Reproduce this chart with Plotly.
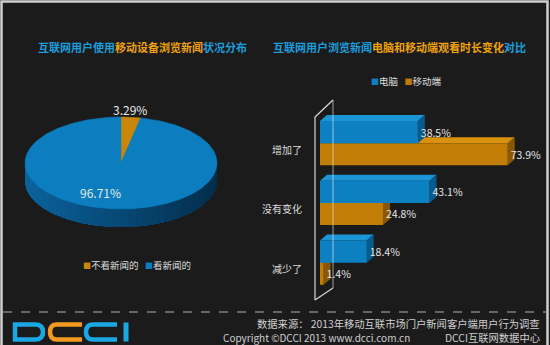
import numpy as np
import plotly.graph_objects as go

# ---------------- data ----------------
pie_labels = ["不看新闻的", "看新闻的"]
pie_values = [3.29, 96.71]

bar_categories = ["增加了", "没有变化", "减少了"]
series_names = ["电脑", "移动端"]
pc_values = [38.5, 43.1, 18.4]
mobile_values = [73.9, 24.8, 1.4]

title_left = [("互联网用户使用", "b"), ("移动设备浏览新闻", "o"), ("状况分布", "b")]
title_right = [("互联网用户浏览新闻", "b"), ("电脑和移动端观看时长变化", "o"), ("对比", "b")]
footer_source = "数据来源： 2013年移动互联市场门户新闻客户端用户行为调查"
footer_copy = "Copyright ©DCCI 2013 www.dcci.com.cn"
footer_org = "DCCI互联网数据中心"

# ---------------- style ----------------
BG = "#1b1b1b"
T_BLUE = "#1c9ddc"
T_ORANGE = "#eea20e"
FONT = "Noto Sans CJK SC"
TXT = "#dcdcdc"

PIE_TOP = ["#c8870a", "#0c7ebf"]
PIE_SIDE_L = [(0x9a, 0x66, 0x08), (0x0b, 0x63, 0x9e)]
PIE_SIDE_R = [(0x6a, 0x44, 0x03), (0x04, 0x2e, 0x4c)]

BAR_FRONT = {"电脑": "#0d80c2", "移动端": "#c17d06"}
BAR_TOP = {"电脑": "#1a95d6", "移动端": "#d8920f"}
BAR_SIDE = {"电脑": "#075a8c", "移动端": "#8a5804"}

fig = go.Figure()

# ---------------- pie (pseudo 3D ellipse on pixel axis x2/y2) ----------------
CX, CY, RX, RY, DEPTH = 121, 163, 96, 46, 18
total = sum(pie_values)
start = 90.0
slices = []
for v in pie_values:
    sweep = 360.0 * v / total
    slices.append((start, start - sweep))
    start -= sweep

def ell(theta_deg, dy=0.0):
    t = np.radians(theta_deg)
    return CX + RX * np.cos(t), CY - RY * np.sin(t) + dy

# side faces (shaded, overlapping strips so no seams show)
for (a0, a1), cl, cr in zip(slices, PIE_SIDE_L, PIE_SIDE_R):
    th = np.linspace(a0, a1, 721)
    s = np.sin(np.radians(th))
    th = th[s <= 0]
    if len(th) < 2:
        continue
    # order strips from left (cos=-1) to right
    if np.cos(np.radians(th[0])) > np.cos(np.radians(th[-1])):
        th = th[::-1]
    nseg = 40
    edges = np.linspace(0, len(th) - 1, nseg + 1).astype(int)
    for k in range(nseg):
        seg = th[edges[k]:]
        part = th[edges[k]:edges[k + 1] + 1]
        f = (np.cos(np.radians(part.mean())) + 1) / 2
        col = "rgb(%d,%d,%d)" % tuple(int(cl[j] + (cr[j] - cl[j]) * f) for j in range(3))
        xs, ys = ell(seg)
        xb, yb = ell(seg[::-1], DEPTH)
        fig.add_trace(go.Scatter(x=np.concatenate([xs, xb]), y=np.concatenate([ys, yb]),
                                 fill="toself", fillcolor=col, mode="lines",
                                 line=dict(width=0), xaxis="x2", yaxis="y2",
                                 hoverinfo="skip", showlegend=False))
# top faces
for (a0, a1), col, lab, v in zip(slices, PIE_TOP, pie_labels, pie_values):
    th = np.linspace(a0, a1, 400)
    xs, ys = ell(th)
    fig.add_trace(go.Scatter(x=np.concatenate([[CX], xs, [CX]]), y=np.concatenate([[CY], ys, [CY]]),
                             fill="toself", fillcolor=col, mode="lines",
                             line=dict(width=0.5, color=col), xaxis="x2", yaxis="y2",
                             name=lab, hoverinfo="name", showlegend=False))

# pie labels
for (a0, a1), v in zip(slices, pie_values):
    mid = (a0 + a1) / 2
    small = v / total < 0.1
    f = 1.16 if small else 0.55
    t = np.radians(mid)
    fig.add_annotation(x=CX + RX * f * np.cos(t), y=CY - RY * f * np.sin(t),
                       xref="x2", yref="y2", text=f"{v:.2f}%", showarrow=False,
                       xshift=-2 if small else -15, yshift=0 if small else -4,
                       font=dict(family=FONT, size=12, color="#e8e8e8"))

# ---------------- bars (pseudo 3D) ----------------
PX_PER_UNIT = 2.54
DX = 7 / PX_PER_UNIT
DY = 0.10
W = 0.37
ypos = list(range(len(bar_categories)))

series = [("移动端", mobile_values, 0.0, 0), ("电脑", pc_values, -W, 2)]
for name, vals, off, z in series:
    for i, v in zip(ypos, vals):
        yt = i + off
        fig.add_trace(go.Scatter(x=[0, v, v + DX, DX, 0], y=[yt, yt, yt - DY, yt - DY, yt],
                                 fill="toself", fillcolor=BAR_TOP[name], mode="lines",
                                 line=dict(width=0), hoverinfo="skip", showlegend=False,
                                 zorder=z))
        fig.add_trace(go.Scatter(x=[v, v + DX, v + DX, v, v], y=[yt, yt - DY, yt + W - DY, yt + W, yt],
                                 fill="toself", fillcolor=BAR_SIDE[name], mode="lines",
                                 line=dict(width=0), hoverinfo="skip", showlegend=False,
                                 zorder=z))
    fig.add_trace(go.Bar(x=vals, y=ypos, orientation="h", name=name,
                         marker=dict(color=BAR_FRONT[name], line=dict(width=0)),
                         width=W, offset=off, zorder=z + 1,
                         text=[f"{v}%" for v in vals], textposition="outside",
                         textfont=dict(family=FONT, size=10.5, color="#e6e6e6"),
                         cliponaxis=False, showlegend=False))

for i, c in zip(ypos, bar_categories):
    fig.add_annotation(x=0, y=i, xref="x", yref="y", text=c, showarrow=False,
                       xanchor="right", xshift=-16, yshift=-6,
                       font=dict(family=FONT, size=10, color=TXT))

# ---------------- decorations ----------------
shapes = []
shapes.append(dict(type="rect", xref="x2", yref="y2", x0=1.5, y0=1.5, x1=547.5, y1=350,
                   line=dict(color="#cfcfcf", width=2.5), layer="above"))
wall = dict(xref="x2", yref="y2", type="line", line=dict(color="#d9d9d9", width=1.2), layer="below")
shapes += [dict(wall, x0=315, y0=117, x1=315, y1=300),
           dict(wall, x0=315, y0=117, x1=333, y1=100),
           dict(wall, x0=315, y0=300, x1=333, y1=288),
           dict(xref="x2", yref="y2", type="line", x0=333, y0=100, x1=333, y1=288,
                line=dict(color="rgba(230,230,230,0.55)", width=1.2), layer="above")]
shapes.append(dict(type="line", xref="x2", yref="y2", x0=3, y0=312, x1=547, y1=312,
                   line=dict(color="#b0b0b0", width=1, dash="dash")))
LB, LO = "#1ba6e4", "#f39a1e"
logo = dict(type="path", xref="x2", yref="y2", fillcolor="rgba(0,0,0,0)")
shapes += [dict(logo, path="M 15 324.5 L 35 324.5 Q 43 324.5 43 332 Q 43 339.5 35 339.5 L 15 339.5 Z", line=dict(color=LB, width=4.5)),
           dict(logo, path="M 82 324.5 L 57 324.5 Q 50 324.5 50 332 Q 50 339.5 57 339.5 L 82 339.5", line=dict(color=LO, width=4.5)),
           dict(logo, path="M 117 324.5 L 93 324.5 Q 86 324.5 86 332 Q 86 339.5 93 339.5 L 117 339.5", line=dict(color=LB, width=4.5)),
           dict(type="line", xref="x2", yref="y2", x0=126, y0=322.5, x1=126, y1=341.5, line=dict(color=LB, width=5))]

def rich(parts):
    return "<b>" + "".join(f"<span style='color:{T_BLUE if c == 'b' else T_ORANGE}'>{t}</span>" for t, c in parts) + "</b>"

ann = [
    dict(x=142.5, y=47, text=rich(title_left), font=dict(family=FONT, size=11)),
    dict(x=399.5, y=47, text=rich(title_right), font=dict(family=FONT, size=11)),
]
ann.append(dict(x=81, y=265, xanchor="left",
                text=f"<span style='color:{PIE_TOP[0]};font-size:8px'>■</span>{pie_labels[0]}   "
                     f"<span style='color:{PIE_TOP[1]};font-size:8px'>■</span>{pie_labels[1]}",
                font=dict(family=FONT, size=9.5, color=TXT)))
ann.append(dict(x=369, y=81, xanchor="left",
                text=f"<span style='color:{BAR_FRONT[series_names[0]]};font-size:8px'>■</span>{series_names[0]}   "
                     f"<span style='color:{BAR_FRONT[series_names[1]]};font-size:8px'>■</span>{series_names[1]}",
                font=dict(family=FONT, size=9.5, color=TXT)))
ann.append(dict(x=541, y=323.5, xanchor="right", text=footer_source, borderpad=0,
                font=dict(family=FONT, size=10.3, color="#cfcfcf")))
ann.append(dict(x=222, y=337.5, xanchor="left", text=footer_copy, borderpad=0,
                font=dict(family=FONT, size=10, color="#cfcfcf")))
ann.append(dict(x=541, y=337.5, xanchor="right", text=footer_org, borderpad=0,
                font=dict(family=FONT, size=10.3, color="#cfcfcf")))
for a in ann:
    fig.add_annotation(xref="x2", yref="y2", showarrow=False, **a)

y_top_px, y_bot_px = 113.25, 292.5
fig.update_layout(
    width=550, height=345,
    margin=dict(l=0, r=0, t=0, b=0),
    paper_bgcolor=BG, plot_bgcolor="rgba(0,0,0,0)",
    barmode="overlay",
    shapes=shapes,
    showlegend=False,
    xaxis=dict(domain=[320 / 550, 1.0], range=[0, 230 / PX_PER_UNIT], visible=False, fixedrange=True),
    yaxis=dict(domain=[(345 - y_bot_px) / 345, (345 - y_top_px) / 345], range=[2.5, -0.5],
               visible=False, fixedrange=True),
    xaxis2=dict(domain=[0, 1], range=[0, 550], visible=False, anchor="y2", fixedrange=True),
    yaxis2=dict(domain=[0, 1], range=[345, 0], visible=False, anchor="x2", fixedrange=True),
)

fig.write_html("out.html")
